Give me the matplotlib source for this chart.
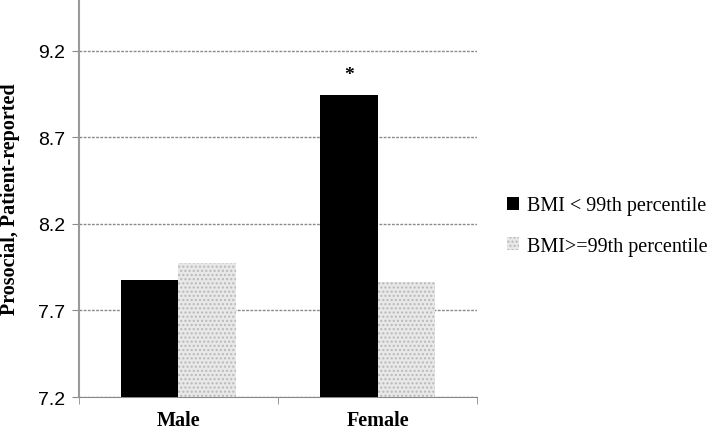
"""
Prosocial score (patient-reported) by sex and BMI group.
"""

import numpy as np
import matplotlib.pyplot as plt
from matplotlib.patches import Patch

# ---- Data
categories = ["Male", "Female"]
series_names = ["BMI < 99th percentile", "BMI>=99th percentile"]
below_99 = [7.876, 8.946]
above_99 = [7.975, 7.865]
y_ticks = [7.2, 7.7, 8.2, 8.7, 9.2]

serif = ["Liberation Serif", "DejaVu Serif"]

# ---- Figure
fig = plt.figure(figsize=(7.16, 4.35), dpi=100)
ax = fig.add_axes([0.1103, 0.085, 0.556, 0.915])

x = np.arange(len(categories))
w = 0.287
ax.bar(x - w/2, below_99, w, color="black", zorder=3)
ax.bar(x + w/2, above_99, w, color="#e8e8e8", edgecolor="#b8b8b8",
       hatch="....", linewidth=0, zorder=3)

# significance marker
ax.text(x[1] - w/2, below_99[1] + 0.07, "*", ha="center", va="bottom",
        fontsize=14, fontweight="bold", family=serif)

ax.set_ylim(7.2, 9.5)
ax.set_xlim(-0.5, 1.5)
ax.set_yticks(y_ticks)
ax.set_yticklabels([f"{t:.1f}" for t in y_ticks], fontsize=14,
                   family=["Liberation Sans", "DejaVu Sans"])
ax.yaxis.grid(True, color="#8a8a8a", linestyle=(0, (2, 1)), linewidth=1,
              zorder=0)
ax.tick_params(axis="y", length=5, color="#8a8a8a", pad=5)

ax.set_xticks(x)
ax.set_xticklabels(categories, fontsize=14.5, fontweight="bold", family=serif)
ax.set_xticks([-0.5, 0.5, 1.5], minor=True)
ax.tick_params(axis="x", which="major", length=0, pad=9)
ax.tick_params(axis="x", which="minor", length=5, color="#8a8a8a")

for s in ["top", "right"]:
    ax.spines[s].set_visible(False)
ax.spines["left"].set_color("#9a9a9a")
ax.spines["left"].set_linewidth(1.5)
ax.spines["bottom"].set_color("#8a8a8a")
ax.spines["bottom"].set_linestyle((0, (2, 1)))

ax.set_ylabel("Prosocial, Patient-reported", fontsize=14.5, fontweight="bold",
              family=serif)
ax.yaxis.set_label_coords(-0.148, 0.5)

handles = [
    Patch(facecolor="black", label=series_names[0]),
    Patch(facecolor="#e8e8e8", edgecolor="#b8b8b8", hatch="....",
          linewidth=0, label=series_names[1]),
]
fig.legend(handles=handles, loc="center left", bbox_to_anchor=(0.708, 0.478),
           frameon=False, borderpad=0, borderaxespad=0,
           handlelength=0.6, handleheight=0.6,
           handletextpad=0.4, labelspacing=1.05,
           prop={"family": serif, "size": 14.5})

fig.savefig("out.png", dpi=100)
